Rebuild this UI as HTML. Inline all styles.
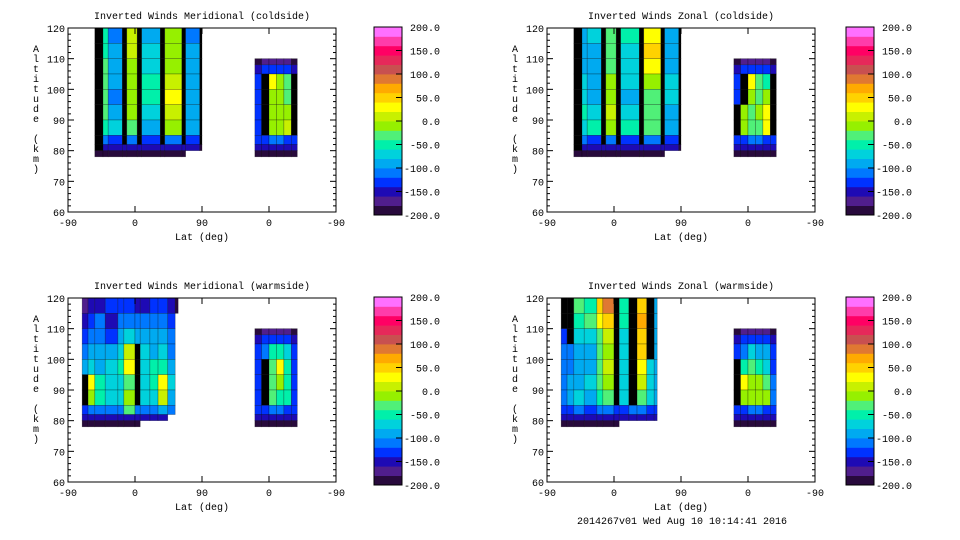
<!DOCTYPE html>
<html><head><meta charset="utf-8"><style>
body{margin:0;background:#fff}
svg{display:block}
text{font-family:"Liberation Mono","DejaVu Sans Mono",monospace;font-size:10px;fill:#000}
</style></head><body>
<svg id="c" width="960" height="540"></svg>
<script>
const colors=["#280a3c","#501e8c","#1e0ab4","#0032ff","#0078ff","#00aaf0","#00d2dc","#00f0aa","#50f078","#96f000","#c8f000","#ffff00","#ffd200","#ffaa00","#e07832","#c85050","#e6285a","#ff0064","#ff3caa","#ff70ff"];
const cbTicks=[200,150,100,50,0,-50,-100,-150,-200];
const yTicks=[60,70,80,90,100,110,120];
const xTickLabels=["-90","0","90","0","-90"];
const titles=["Inverted Winds Meridional (coldside)","Inverted Winds Zonal (coldside)","Inverted Winds Meridional (warmside)","Inverted Winds Zonal (warmside)"];
const leftAlts=[120,115,110,105,100,95,90,85,82,80,78];
const rightAlts=[110,108,105,100,95,90,85,82,80,78];
const rightLats=[19,10,0,-10,-20,-30,-38];
const latsA=[-54,-43,-36,-17,-11,3,9,34,40,63,68,87,90];
const latsB=[-71,-63,-54,-40,-23,-15,0,7,20,31,44,54,58];
const p1Vals=[
[-300,-60,-110,-300,10,-300,-90,-300,-20,-300,-110,-300],
[-300,-50,-100,-300,0,-300,-80,-300,-10,-300,-100,-300],
[-300,-40,-90,-300,-20,-300,-70,-300,-10,-300,-100,-300],
[-300,-30,-90,-300,-10,-300,-60,-300,10,-300,-90,-300],
[-300,-30,-110,-300,-10,-300,-60,-300,20,-300,-90,-300],
[-300,-40,-90,-300,-20,-300,-80,-300,10,-300,-100,-300],
[-300,-50,-80,-300,-30,-300,-90,-300,-10,-300,-100,-300],
[-300,-120,-130,-300,-120,-300,-130,-300,-120,-300,-130,-300],
[-300,-160,-160,-160,-160,-160,-160,-160,-160,-160,-160,-200],
[-190,-190,-190,-190,-190,-190,-190,-190,-190,-190,null,null]];
const p2Vals=[
[-300,-100,-70,-300,-40,-300,-60,-300,20,-300,-100,-300],
[-300,-100,-90,-300,-30,-300,-70,-300,40,-300,-90,-300],
[-300,-90,-100,-300,-30,-300,-70,-300,30,-300,-90,-300],
[-300,-80,-90,-300,-20,-300,-80,-300,-10,-300,-80,-300],
[-300,-70,-100,-300,-20,-300,-100,-300,-30,-300,-80,-300],
[-300,-60,-80,-300,0,-300,-80,-300,-30,-300,-90,-300],
[-300,-70,-60,-300,-20,-300,-60,-300,-40,-300,-90,-300],
[-300,-120,-130,-300,-120,-300,-130,-300,-120,-300,-130,-300],
[-300,-160,-160,-160,-160,-160,-160,-160,-160,-160,-160,-200],
[-190,-190,-190,-190,-190,-190,-190,-190,-190,-190,null,null]];
const p3Vals=[
[-170,-150,-150,-140,-130,-140,-150,-150,-140,-130,-160,-200],
[-150,-130,-120,-150,-110,-110,-120,-120,-110,-110,-140,null],
[-140,-120,-110,-130,-100,-80,-90,-100,-100,-100,-120,null],
[-120,-100,-100,-100,-80,10,-300,-80,-90,-80,-110,null],
[-100,-80,-90,-80,-60,30,-300,-70,-60,-60,-100,null],
[-300,20,-60,-80,-70,-40,-300,-70,-60,30,-80,null],
[-300,-20,-60,-70,-80,-10,-300,-70,-80,0,-90,null],
[-130,-120,-110,-110,-110,-30,-110,-110,-110,-100,-110,null],
[-160,-160,-150,-160,-150,-150,-150,-150,-150,-150,null,null],
[-190,-190,-190,-190,-190,-190,-190,null,null,null,null,null]];
const p4Vals=[
[-300,-300,-40,-60,40,80,-300,-60,-300,40,-300,-90],
[-300,-300,-50,-40,20,40,-300,-60,-300,60,-300,-90],
[-130,-300,-70,-80,-30,0,-300,-70,-300,50,-300,-90],
[-120,-120,-90,-100,-40,-20,-300,-80,-300,40,-300,-90],
[-110,-110,-100,-90,-30,10,-300,-70,-300,30,-80,-100],
[-110,-100,-90,-80,-40,-20,-300,-80,-300,0,-70,-100],
[-110,-100,-80,-90,-60,-40,-300,-80,-300,-40,-80,-100],
[-140,-130,-120,-130,-120,-120,-130,-130,-120,-120,-130,-140],
[-160,-160,-160,-160,-160,-160,-160,-160,-160,-160,-160,-160],
[-190,-190,-190,-190,-190,-190,-190,null,null,null,null,null]];
const r1Vals=[[-190,-170,-170,-170,-170,-190],[-150,-140,-140,-140,-140,-150],[-130,-300,20,-20,-40,-300],[-130,-300,-10,-20,-40,-300],[-130,-300,-20,-10,-20,-300],[-130,-300,-20,-10,0,-300],[-140,-130,-120,-120,-130,-140],[-160,-160,-160,-160,-160,-160],[-190,-190,-190,-190,-190,-190]];
const r2Vals=[[-190,-170,-170,-170,-170,-190],[-150,-140,-140,-140,-140,-150],[-130,-300,30,-40,-60,-300],[-130,-300,-20,-40,-20,-300],[-300,-20,-30,-20,20,-300],[-300,-20,-30,-30,20,-300],[-140,-130,-120,-120,-130,-140],[-160,-160,-160,-160,-160,-160],[-190,-190,-190,-190,-190,-190]];
const r3Vals=[[-190,-170,-170,-170,-170,-190],[-150,-140,-140,-140,-140,-150],[-130,-110,-60,-50,-80,-130],[-130,-300,-30,20,-60,-130],[-130,-300,-30,-20,-60,-130],[-130,-300,-40,-60,-60,-130],[-140,-130,-120,-120,-130,-140],[-160,-160,-160,-160,-160,-160],[-190,-190,-190,-190,-190,-190]];
const r4Vals=[[-190,-170,-170,-170,-170,-190],[-150,-140,-140,-140,-140,-150],[-130,-110,-80,-90,-90,-130],[-300,-60,-40,-60,-70,-130],[-300,20,-20,-20,-30,-120],[-300,-20,-20,-20,-20,-120],[-140,-130,-120,-120,-130,-140],[-160,-160,-160,-160,-160,-160],[-190,-190,-190,-190,-190,-190]];

const panels=[
 {ox:68,oy:28,cb:374,lats:latsA,vals:p1Vals,rv:r1Vals,name:"meridional-coldside"},
 {ox:547,oy:28,cb:846,lats:latsA,vals:p2Vals,rv:r2Vals,name:"zonal-coldside"},
 {ox:68,oy:298,cb:374,lats:latsB,vals:p3Vals,rv:r3Vals,name:"meridional-warmside"},
 {ox:547,oy:298,cb:846,lats:latsB,vals:p4Vals,rv:r4Vals,name:"zonal-warmside"}];
const NS="http://www.w3.org/2000/svg";
const svg=document.getElementById('c');
function mk(tag,attrs,parent){const e=document.createElementNS(NS,tag);for(const k in attrs)e.setAttribute(k,attrs[k]);(parent||svg).appendChild(e);return e;}
function colorOf(v){if(v<=-250)return"#000";let i=Math.floor((v+200)/20);i=Math.max(0,Math.min(19,i));return colors[i];}
const W=268,H=184;
panels.forEach((p,pi)=>{
 const g=mk('g',{});
 
 
 const yS=a=>p.oy+(120-a)/60*H;
 const xL=l=>p.ox+67+l*67/90;
 const xR=l=>p.ox+201-l*67/90;
 p.vals.forEach((row,ri)=>row.forEach((v,ci)=>{
  if(v===null)return;
  const x0=xL(p.lats[ci]),x1=xL(p.lats[ci+1]),y0=yS(leftAlts[ri]),y1=yS(leftAlts[ri+1]);
  const r=mk('rect',{x:x0,y:y0,width:x1-x0,height:y1-y0,fill:colorOf(v),stroke:'rgba(0,0,0,0.4)','stroke-width':0.6},g);
  
  
 }));
 p.rv.forEach((row,ri)=>row.forEach((v,ci)=>{
  const x0=xR(rightLats[ci]),x1=xR(rightLats[ci+1]),y0=yS(rightAlts[ri]),y1=yS(rightAlts[ri+1]);
  const r=mk('rect',{x:x0,y:y0,width:x1-x0,height:y1-y0,fill:colorOf(v),stroke:'rgba(0,0,0,0.4)','stroke-width':0.6},g);
  
  
 }));
 const f=mk('rect',{x:p.ox,y:p.oy,width:W,height:H,fill:'none',stroke:'#000','stroke-width':1},g);
 
 
 for(let a=60;a<=120;a+=2){const y=yS(a);const L=(a%10===0)?6:3;
  mk('line',{x1:p.ox,x2:p.ox+L,y1:y,y2:y,stroke:'#000'},g);mk('line',{x1:p.ox+W,x2:p.ox+W-L,y1:y,y2:y,stroke:'#000'},g);}
 yTicks.forEach(a=>{const t=mk('text',{x:p.ox-3,y:yS(a)+4,'text-anchor':'end'},g);t.textContent=a;
  });
 xTickLabels.forEach((s,i)=>{const x=p.ox+i*67;
  mk('line',{x1:x,x2:x,y1:p.oy+H,y2:p.oy+H-6,stroke:'#000'},g);mk('line',{x1:x,x2:x,y1:p.oy,y2:p.oy+6,stroke:'#000'},g);
  const t=mk('text',{x:x,y:p.oy+H+14,'text-anchor':'middle'},g);t.textContent=s;
  });
 const xt=mk('text',{x:p.ox+134,y:p.oy+H+28,'text-anchor':'middle'},g);xt.textContent='Lat (deg)';
 
 const tt=mk('text',{x:p.ox+134,y:p.oy-9,'text-anchor':'middle'},g);tt.textContent=titles[pi];
 
 const yl="Altitude (km)";
 const yt=mk('g',{},g);
 [...yl].forEach((ch,i)=>{const t=mk('text',{x:p.ox-32,y:p.oy+24+i*10,'text-anchor':'middle'},yt);t.textContent=ch;});
 const cg=mk('g',{},g);
 const cy0=p.oy-1,ch=188,bh=ch/20;
 colors.forEach((c,i)=>{mk('rect',{x:p.cb,y:cy0+ch-(i+1)*bh,width:28,height:bh+0.4,fill:c},cg);});
 mk('rect',{x:p.cb,y:cy0,width:28,height:ch,fill:'none',stroke:'#000'},cg);
 cbTicks.forEach(v=>{const y=cy0+(200-v)/400*ch;
  if(v<200&&v>-200)mk('line',{x1:p.cb+22,x2:p.cb+28,y1:y,y2:y,stroke:'#000'},cg);
  const t=mk('text',{x:p.cb+66,y:y+4,'text-anchor':'end'},cg);t.textContent=v.toFixed(1);
  });
});
const ft=mk('text',{x:682,y:524,'text-anchor':'middle'});ft.textContent='2014267v01 Wed Aug 10 10:14:41 2016';

</script>
</body></html>
